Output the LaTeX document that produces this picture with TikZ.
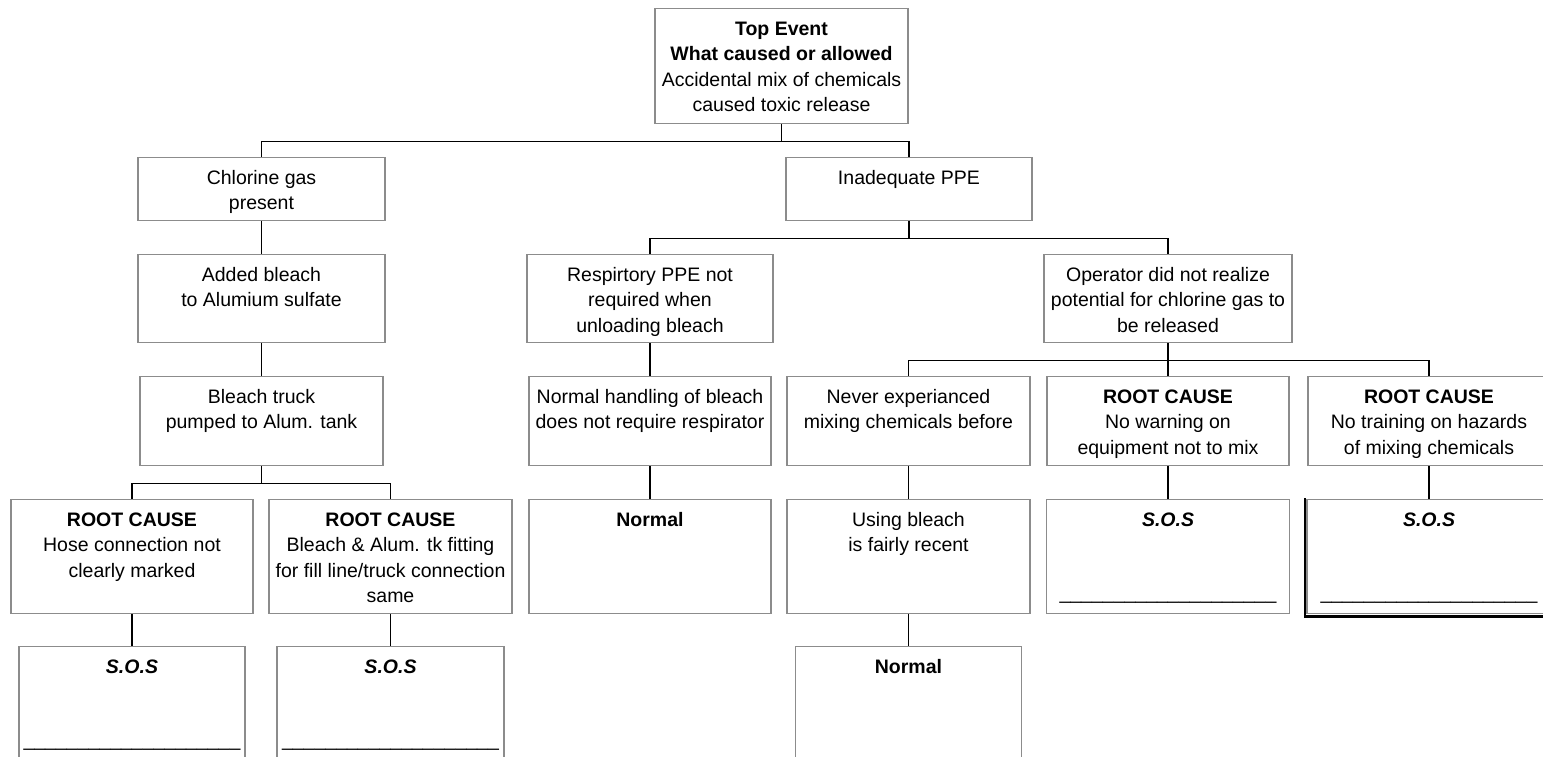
\documentclass[tikz,border=0pt]{standalone}
\usepackage{fontspec}
\setmainfont{Liberation Sans}
\usepackage{xcolor}
\usetikzlibrary{positioning,calc}

\definecolor{boxgray}{RGB}{140,140,140}

% text of a box: fixed size, first line at the top
\newcommand{\boxcell}[3]{\parbox[c][#2pt][s]{#1pt}{\centering\rule{0pt}{26.5pt}#3\par\vfill}}
% S.O.S box with the line to fill in
\newcommand{\soscell}[2]{\parbox[c][#2pt][s]{#1pt}{\centering\rule{0pt}{26.5pt}\textbf{\textit{S.O.S}}\par\vfill
  \_\_\_\_\_\_\_\_\_\_\_\_\_\_\_\_\_\_\_\_\par\vspace{10pt}}}

\begin{document}
\begin{tikzpicture}[x=1pt, y=-1pt,
    cell/.style={draw=boxgray, line width=1.3pt, inner sep=0pt, anchor=north,
      font=\fontsize{19.5}{25.5}\selectfont},
    link/.style={draw=black, line width=1.1pt}]
    \useasboundingbox (0,0) rectangle (1543,756);
    \clip (0,0) rectangle (1543,756);

    % Top event
    \node[cell] (top) at (781.5,8) {\boxcell{253}{115}{\textbf{Top Event}\\\textbf{What caused or allowed}\\Accidental mix of chemicals\\caused toxic release}};

    % Chlorine branch
    \node[cell] (chlor) at (261.5,157) {\boxcell{247}{63}{Chlorine gas\\present}};
    \node[cell] (added) at (261.5,254) {\boxcell{247}{88}{Added bleach\\to Alumium sulfate}};
    \node[cell] (truck) at (261.5,376) {\boxcell{243}{89}{Bleach truck\\pumped to Alum. tank}};
    \node[cell] (hose) at (132,499) {\boxcell{242}{114}{\textbf{ROOT CAUSE}\\Hose connection not\\clearly marked}};
    \node[cell] (fitting) at (390.5,499) {\boxcell{243}{114}{\textbf{ROOT CAUSE}\\Bleach \& Alum. tk fitting\\for fill line/truck connection\\same}};
    \node[cell] (sosA) at (132,646) {\soscell{226}{114}};
    \node[cell] (sosB) at (390.5,646) {\soscell{227}{114}};

    % PPE branch
    \node[cell] (ppe) at (909,157) {\boxcell{246}{63}{Inadequate PPE}};
    \node[cell] (resp) at (650,254) {\boxcell{246}{88}{Respirtory PPE not\\required when\\unloading bleach}};
    \node[cell] (handling) at (650,376) {\boxcell{242}{89}{Normal handling of bleach\\does not require respirator}};
    \node[cell] (normA) at (650,499) {\boxcell{242}{114}{\textbf{Normal}}};

    \node[cell] (oper) at (1168,254) {\boxcell{248}{88}{Operator did not realize\\potential for chlorine gas to\\be released}};
    \node[cell] (never) at (908.5,376) {\boxcell{243}{89}{Never experianced\\mixing chemicals before}};
    \node[cell] (recent) at (908.5,499) {\boxcell{243}{114}{Using bleach\\is fairly recent}};
    \node[cell] (normB) at (908.5,646) {\boxcell{226}{114}{\textbf{Normal}}};
    \node[cell] (warning) at (1168,376) {\boxcell{242}{89}{\textbf{ROOT CAUSE}\\No warning on\\equipment not to mix}};
    \node[cell] (sosC) at (1168,499) {\soscell{243}{114}};
    \node[cell] (training) at (1429,376) {\boxcell{242}{89}{\textbf{ROOT CAUSE}\\No training on hazards\\of mixing chemicals}};
    \node[cell] (sosD) at (1429,499) {\soscell{244}{114}};
    \draw[line width=2.5pt] ([xshift=-1.5pt,yshift=1pt]sosD.north west) |- ([yshift=-2pt]sosD.south east);

    % Connectors
    \draw[link] (top.south) -- ++(0,17) -| (chlor.north) (top.south) ++(0,17) -| (ppe.north);
    \draw[link] (chlor) -- (added);
    \draw[link] (added) -- (truck);
    \draw[link] (truck.south) -- ++(0,17) -| (hose.north) (truck.south) ++(0,17) -| (fitting.north);
    \draw[link] (hose) -- (sosA);
    \draw[link] (fitting) -- (sosB);
    \draw[link] (ppe.south) -- ++(0,17) -| (resp.north) (ppe.south) ++(0,17) -| (oper.north);
    \draw[link] (resp) -- (handling);
    \draw[link] (handling) -- (normA);
    \draw[link] (oper.south) -- ++(0,17) -| (never.north) (oper.south) ++(0,17) -| (training.north);
    \draw[link] (oper) -- (warning);
    \draw[link] (never) -- (recent);
    \draw[link] (recent) -- (normB);
    \draw[link] (warning) -- (sosC);
    \draw[link] (training) -- (sosD);
\end{tikzpicture}
\end{document}
